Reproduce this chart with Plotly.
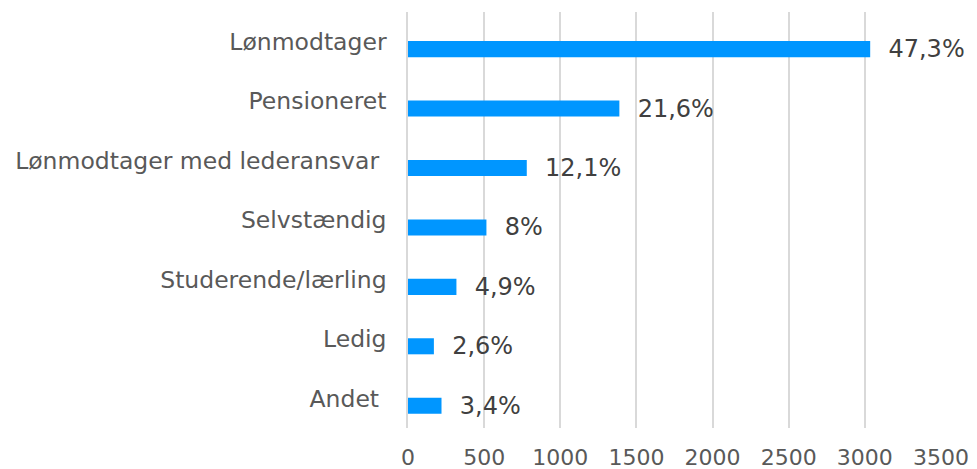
import plotly.graph_objects as go

# Occupation categories, top to bottom
categories = [
    "Lønmodtager",
    "Pensioneret",
    "Lønmodtager med lederansvar\u00a0",
    "Selvstændig",
    "Studerende/lærling",
    "Ledig",
    "Andet\u00a0",
]
counts = [3035, 1388, 780, 515, 318, 170, 220]
share_labels = ["47,3%", "21,6%", "12,1%", "8%", "4,9%", "2,6%", "3,4%"]

x_ticks = [0, 500, 1000, 1500, 2000, 2500, 3000, 3500]

BAR_COLOR = "#0096FF"
FONT = "DejaVu Sans"

# The page body has an 8px default margin, so the figure is sized to fit the window
PAGE_PAD = 8

fig = go.Figure(
    go.Bar(
        x=counts,
        y=categories,
        orientation="h",
        marker=dict(color=BAR_COLOR, line_width=0),
        width=0.27,
        offset=-0.01,
        text=["\u00a0\u00a0" + s for s in share_labels],
        textposition="outside",
        constraintext="none",
        textfont=dict(family=FONT, size=24, color="#404040"),
        cliponaxis=False,
        hoverinfo="skip",
    )
)

fig.update_layout(
    width=977 - PAGE_PAD,
    height=469 - PAGE_PAD,
    margin=dict(l=408 - PAGE_PAD, r=36, t=12 - PAGE_PAD, b=41),
    paper_bgcolor="white",
    plot_bgcolor="white",
    showlegend=False,
    font=dict(family=FONT, color="#595959"),
)

fig.update_xaxes(
    range=[0, 3500],
    tickvals=x_ticks,
    showgrid=True,
    gridcolor="#D9D9D9",
    gridwidth=1.5,
    zeroline=False,
    showline=False,
    ticks="",
    automargin=False,
    ticklabelstandoff=14,
    tickfont=dict(family=FONT, size=22, color="#595959"),
)

fig.update_yaxes(
    autorange="reversed",
    categoryorder="array",
    categoryarray=categories,
    showgrid=False,
    zeroline=False,
    showline=True,
    linecolor="#D9D9D9",
    linewidth=1.5,
    ticks="",
    automargin=False,
    ticklabelstandoff=15,
    tickfont=dict(family=FONT, size=23.5, color="#595959"),
)

fig.write_html("out.html")
